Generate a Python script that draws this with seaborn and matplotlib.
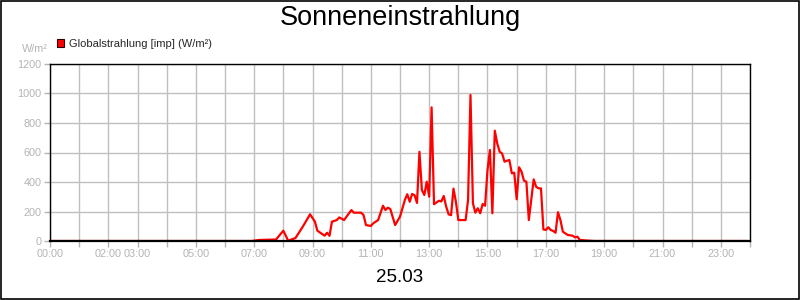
import matplotlib
matplotlib.use("Agg")
import matplotlib.pyplot as plt
from matplotlib.patches import Patch, Rectangle
import seaborn as sns
import pandas as pd

# ---- data ----
times = ["00:00", "06:55", "07:10", "07:45", "08:00", "08:10", "08:25", "08:40", "08:55",
         "09:05", "09:10", "09:20", "09:25", "09:30", "09:35", "09:40", "09:50", "09:55",
         "10:05", "10:10", "10:20", "10:25", "10:40", "10:45", "10:50", "11:00", "11:05",
         "11:15", "11:25", "11:30", "11:35", "11:40", "11:50", "12:00", "12:10", "12:15",
         "12:20", "12:25", "12:30", "12:35", "12:40", "12:45", "12:50", "12:55", "13:00",
         "13:05", "13:10", "13:20", "13:25", "13:30", "13:35", "13:40", "13:45", "13:50",
         "13:55", "14:00", "14:15", "14:20", "14:25", "14:30", "14:35", "14:40", "14:45",
         "14:50", "14:55", "15:00", "15:05", "15:10", "15:15", "15:20", "15:25", "15:30",
         "15:35", "15:40", "15:45", "15:50", "15:55", "16:00", "16:05", "16:10", "16:15",
         "16:20", "16:25", "16:35", "16:40", "16:45", "16:50", "16:55", "17:00", "17:05",
         "17:10", "17:15", "17:20", "17:25", "17:30", "17:35", "17:45", "17:55", "18:00",
         "18:05", "18:10", "18:25", "18:40", "23:55"]
values = [0, 0, 7, 10, 70, 2, 20, 97, 181,
          131, 70, 47, 36, 56, 35, 131, 142, 160,
          142, 165, 210, 192, 192, 176, 108, 102, 120,
          142, 239, 210, 226, 217, 108, 165, 278, 317,
          266, 319, 310, 258, 605, 346, 312, 402, 300,
          906, 249, 273, 268, 305, 233, 181, 175, 355,
          266, 142, 142, 278, 990, 256, 192, 222, 188,
          251, 239, 481, 617, 188, 748, 662, 605, 594,
          538, 544, 549, 459, 463, 283, 500, 470, 409,
          402, 142, 418, 368, 357, 357, 78, 75, 93,
          75, 68, 56, 195, 142, 63, 41, 36, 25,
          29, 7, 3, 0, 0]
series_label = "Globalstrahlung [imp] (W/m²)"
title_text = "Sonneneinstrahlung"
date_text = "25.03"
unit_text = "W/m²"
label_hours = [0, 2, 3, 5, 7, 9, 11, 13, 15, 17, 19, 21, 23]
tick_labels = ["00:00", "02:00", "03:00", "05:00", "07:00", "09:00", "11:00",
               "13:00", "15:00", "17:00", "19:00", "21:00", "23:00"]
y_ticks = [0, 200, 400, 600, 800, 1000, 1200]

hours = [int(t[:2]) + int(t[3:]) / 60 for t in times]
df = pd.DataFrame({"hour": hours, "value": values})

sns.set_theme(style="white")
plt.rcParams["font.family"] = ["Liberation Sans", "DejaVu Sans"]

fig = plt.figure(figsize=(8, 3), dpi=100)
fig.patch.set_facecolor("white")
ax = fig.add_axes([50 / 800, 1 - 241 / 300, 700 / 800, 177 / 300])

grey = "#b4b4b4"
sns.lineplot(data=df, x="hour", y="value", ax=ax, color="#ff0000", linewidth=1.6, legend=False)

ax.set_xlim(0, 24)
ax.set_ylim(0, 1200)
ax.set_xticks(range(0, 25), minor=True)
ax.set_xticks(label_hours)
ax.set_xticklabels(tick_labels)
ax.set_yticks(y_ticks)
ax.set_xlabel("")
ax.set_ylabel("")
ax.grid(True, which="both", axis="x", color="#c0c0c0", linewidth=1.0)
ax.grid(True, which="major", axis="y", color="#c0c0c0", linewidth=1.0)
ax.set_axisbelow(True)
ax.tick_params(axis="both", which="both", direction="out", length=4, width=1,
               color=grey, labelcolor=grey, labelsize=7.8, pad=2, bottom=True, left=True)
for s in ["top", "right", "left"]:
    ax.spines[s].set_color("black")
    ax.spines[s].set_linewidth(1.0)
ax.spines["bottom"].set_color("black")
ax.spines["bottom"].set_linewidth(1.6)

fig.text(0.5, 1 - 18 / 300, title_text, ha="center", va="center", fontsize=19.5, color="black")
fig.text(0.5, 1 - 277 / 300, date_text, ha="center", va="center", fontsize=13.5, color="black")
fig.text(48 / 800, 1 - 49 / 300, unit_text, ha="right", va="center", fontsize=7.8, color=grey)

fig.legend(handles=[Patch(facecolor="#ff0000", edgecolor="#300000", linewidth=0.8)],
           labels=[series_label], loc="center left",
           bbox_to_anchor=(57 / 800, 1 - 44 / 300), frameon=False,
           handlelength=0.65, handleheight=0.65, handletextpad=0.45, fontsize=8,
           borderaxespad=0, borderpad=0)

fig.add_artist(Rectangle((0.0008, 0.002), 0.9984, 0.995, transform=fig.transFigure,
                         fill=False, edgecolor="black", linewidth=1.2))

fig.savefig("out.png", dpi=100, facecolor="white")
